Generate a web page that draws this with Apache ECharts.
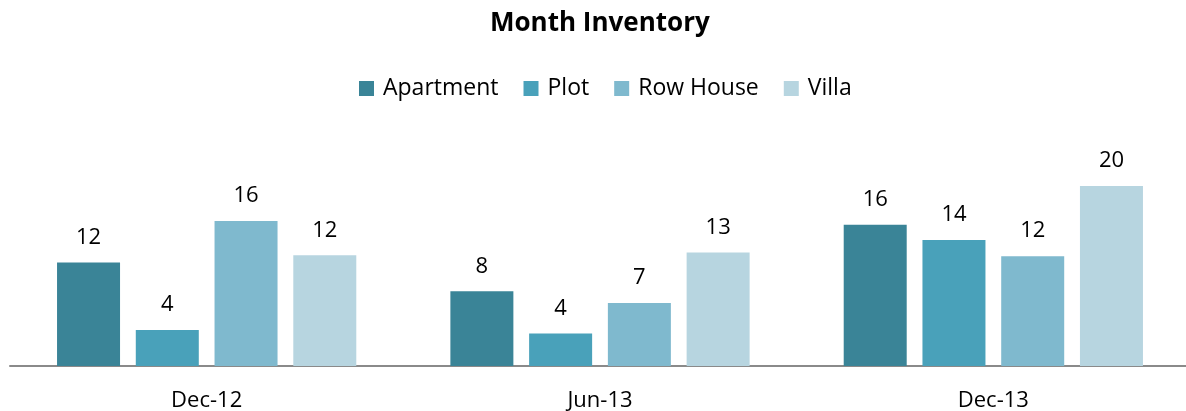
<!DOCTYPE html>
<html>
<head>
<meta charset="utf-8">
<script src="https://cdn.jsdelivr.net/npm/echarts@6/dist/echarts.min.js"></script>
<style>
  html, body { margin: 0; padding: 0; background: #fff; }
  #chart { width: 1186px; height: 411px; }
</style>
</head>
<body>
<div id="chart"></div>
<script>
// data
var categories = ["Dec-12", "Jun-13", "Dec-13"];
var seriesNames = ["Apartment", "Plot", "Row House", "Villa"];
var apartment = [11.5, 8.3, 15.7];
var plot = [4.0, 3.6, 14.0];
var rowHouse = [16.1, 7.0, 12.2];
var villa = [12.3, 12.6, 20.0];

var colors = ["#3a8497", "#49a1ba", "#7fb9ce", "#b7d5e0"];
var font = "'Open Sans', 'Noto Sans', sans-serif";

function barSeries(name, values) {
  return {
    name: name,
    type: "bar",
    data: values,
    barWidth: 63,
    barGap: "25%",
    label: {
      show: true,
      position: "top",
      distance: 14,
      color: "#000",
      fontSize: 22,
      fontFamily: font,
      // labels show whole numbers
      formatter: function (p) { return Math.round(p.value); },
    },
  };
}

var myChart = echarts.init(document.getElementById("chart"));
myChart.setOption({
  animation: false,
  color: colors,
  title: {
    text: "Month Inventory",
    left: 490,
    top: 11,
    padding: 0,
    textStyle: {
      color: "#000",
      fontSize: 26,
      fontWeight: "bold",
      fontFamily: font,
    },
  },
  legend: {
    data: seriesNames,
    left: 359,
    top: 77,
    padding: 0,
    itemWidth: 15,
    itemHeight: 15,
    itemGap: 25,
    icon: "rect",
    textStyle: {
      color: "#000",
      fontSize: 23,
      fontFamily: font,
      padding: [0, 0, 0, 4],
    },
  },
  grid: {
    left: 10,
    top: 141,
    width: 1180,
    height: 225,
    outerBoundsMode: "none",
  },
  xAxis: {
    type: "category",
    data: categories,
    axisTick: { show: false },
    axisLine: {
      lineStyle: { color: "#8a8a8a", width: 2 },
    },
    axisLabel: {
      color: "#000",
      fontSize: 22,
      fontFamily: font,
      margin: 24,
    },
  },
  yAxis: {
    type: "value",
    min: 0,
    max: 25,
    show: false,
  },
  series: [
    barSeries(seriesNames[0], apartment),
    barSeries(seriesNames[1], plot),
    barSeries(seriesNames[2], rowHouse),
    barSeries(seriesNames[3], villa),
  ],
});
</script>
</body>
</html>
